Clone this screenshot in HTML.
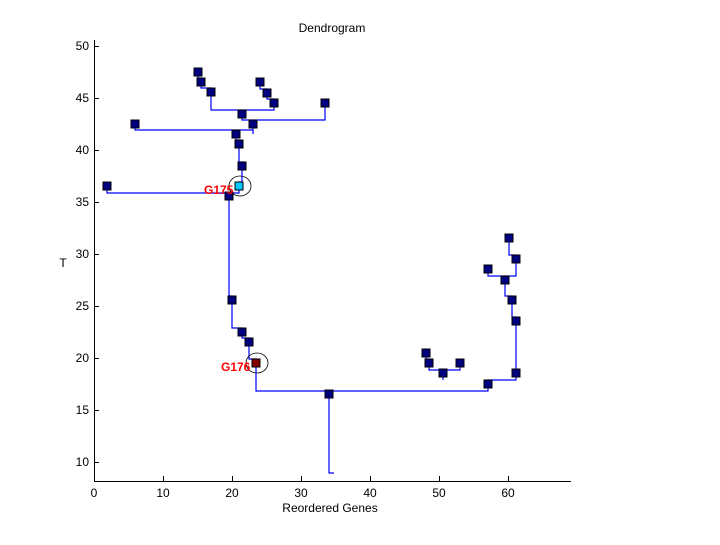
<!DOCTYPE html>
<html><head><style>body{margin:0;background:#fff}</style></head><body>
<svg width="720" height="540" xmlns="http://www.w3.org/2000/svg" font-family="Liberation Sans, sans-serif" font-size="12">
<rect width="720" height="540" fill="#fff"/>
<text x="332" y="32" text-anchor="middle">Dendrogram</text>
<g stroke="#000" stroke-width="1" fill="none">
<line x1="94.5" y1="40" x2="94.5" y2="481.5"/>
<line x1="94" y1="481.5" x2="571" y2="481.5"/>
<path d="M94 46.5h5M94 98.5h5M94 150.5h5M94 202.5h5M94 254.5h5M94 306.5h5M94 358.5h5M94 410.5h5M94 462.5h5"/>
<path d="M163.5 481v-5M232.5 481v-5M301.5 481v-5M370.5 481v-5M439.5 481v-5M508.5 481v-5"/>
</g>
<g text-anchor="end">
<text x="89" y="50">50</text><text x="89" y="102">45</text><text x="89" y="154">40</text><text x="89" y="206">35</text><text x="89" y="258">30</text><text x="89" y="310">25</text><text x="89" y="362">20</text><text x="89" y="414">15</text><text x="89" y="466">10</text>
</g>
<g text-anchor="middle">
<text x="94" y="497">0</text><text x="163" y="497">10</text><text x="232" y="497">20</text><text x="301" y="497">30</text><text x="370" y="497">40</text><text x="439" y="497">50</text><text x="508" y="497">60</text>
<text x="330" y="512">Reordered Genes</text>
</g>
<text x="63" y="267" text-anchor="middle">T</text>
<g stroke="#0000ff" stroke-width="1.2" fill="none">
<path d="M198 72V78H201V82V88H211V92V110H274V103V99H267V93V89H260V82"/>
<path d="M242 110V120H325V103"/>
<path d="M253 120V130H135V124M253 130V134"/>
<path d="M236 134V140H239V162H242V182H239V193H107V186M229 193V296H232V328H242V338H249V359H256V391H488V384V380H516V373V321V317H512V296H505V276H516V259V255H509V238"/>
<path d="M505 276H488V269"/>
<path d="M443 380V370H460V363M443 370H429V359H426V353"/>
<path d="M329 391V473H334"/>
</g>
<g fill="#000080" stroke="#000" stroke-width="1">
<rect x="194" y="68" width="8" height="8"/><rect x="197" y="78" width="8" height="8"/><rect x="207" y="88" width="8" height="8"/>
<rect x="256" y="78" width="8" height="8"/><rect x="263" y="89" width="8" height="8"/><rect x="270" y="99" width="8" height="8"/>
<rect x="321" y="99" width="8" height="8"/><rect x="238" y="110" width="8" height="8"/><rect x="131" y="120" width="8" height="8"/>
<rect x="249" y="120" width="8" height="8"/><rect x="232" y="130" width="8" height="8"/><rect x="235" y="140" width="8" height="8"/>
<rect x="238" y="162" width="8" height="8"/><rect x="103" y="182" width="8" height="8"/><rect x="225" y="192" width="8" height="8"/>
<rect x="228" y="296" width="8" height="8"/><rect x="238" y="328" width="8" height="8"/><rect x="245" y="338" width="8" height="8"/>
<rect x="325" y="390" width="8" height="8"/>
<rect x="505" y="234" width="8" height="8"/><rect x="512" y="255" width="8" height="8"/><rect x="484" y="265" width="8" height="8"/>
<rect x="501" y="276" width="8" height="8"/><rect x="508" y="296" width="8" height="8"/><rect x="512" y="317" width="8" height="8"/>
<rect x="512" y="369" width="8" height="8"/><rect x="422" y="349" width="8" height="8"/><rect x="425" y="359" width="8" height="8"/>
<rect x="456" y="359" width="8" height="8"/><rect x="439" y="369" width="8" height="8"/><rect x="484" y="380" width="8" height="8"/>
<rect x="235" y="182" width="8" height="8" fill="#00c8ff"/>
<rect x="252" y="359" width="8" height="8" fill="#800000"/>
</g>
<g fill="none" stroke="#000" stroke-width="0.8">
<ellipse cx="240" cy="186" rx="11" ry="10"/>
<ellipse cx="257" cy="363" rx="11" ry="10"/>
</g>
<g fill="#ff0000" font-weight="bold" font-size="12">
<text x="204" y="194">G175</text>
<text x="221" y="371">G176</text>
</g>
</svg>
</body></html>
